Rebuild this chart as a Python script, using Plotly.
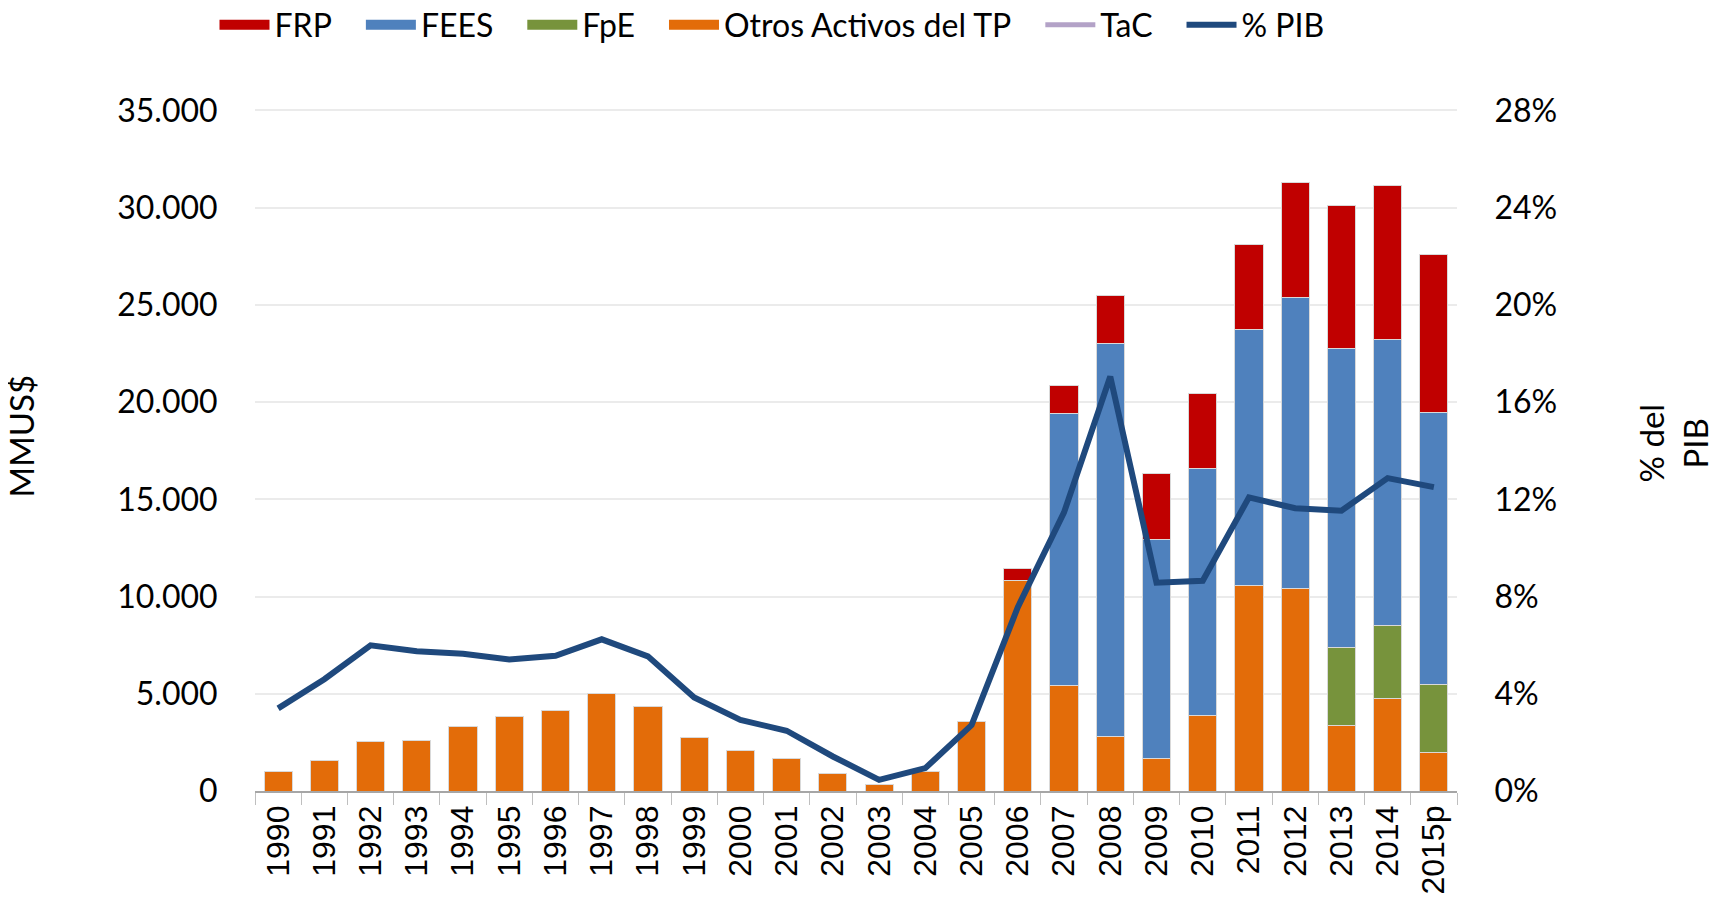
import plotly.graph_objects as go

years = ["1990","1991","1992","1993","1994","1995","1996","1997","1998","1999",
         "2000","2001","2002","2003","2004","2005","2006","2007","2008","2009",
         "2010","2011","2012","2013","2014","2015p"]

otros = [1000,1570,2560,2610,3310,3820,4160,5020,4330,2750,2100,1650,900,320,990,
         3590,10820,5420,2800,1650,3870,10590,10400,3350,4750,1970]
fpe = [None]*23 + [4020,3770,3500]
fees = [None]*17 + [14000,20190,11280,12720,13140,15000,15400,14690,13980]
frp = [None]*16 + [620,1440,2510,3390,3830,4390,5880,7320,7950,8120]
tac = [None]*26
pib = [3.40,4.60,5.99,5.75,5.65,5.41,5.56,6.24,5.54,3.85,2.92,2.48,1.42,0.46,0.94,
       2.71,7.56,11.46,17.05,8.57,8.65,12.08,11.63,11.53,12.87,12.50]

left_ticks = [0,5000,10000,15000,20000,25000,30000,35000]
right_ticks = [0,4,8,12,16,20,24,28]
right_labels = ["0%","4%","8%","12%","16%","20%","24%","28%"]

FONT = "Lato, Open Sans, sans-serif"
outline = dict(color="#D9D9D9", width=1)
SP = "\u2003"  # trailing em space widens the gap after each legend label

# page body has an 8px default margin -> figure is 8px smaller and shifted
W, H = 1709, 904
L, R, T, B = 247, 1449, 102, 783   # plot area edges in figure px
PW, PH = R - L, B - T
pad = 1.002  # tiny headroom so the 35.000 gridline is drawn

series = [("Otros Activos del TP", otros, "#E36C09", 4),
          ("FpE", fpe, "#77933C", 3),
          ("FEES", fees, "#4F81BD", 2),
          ("FRP", frp, "#C00000", 1)]

fig = go.Figure()
for name, vals, col, rank in series:
    fig.add_trace(go.Bar(x=years, y=vals, name=name, marker=dict(color=col, line=outline),
                         showlegend=False, legendgroup=name))
for name, vals, col, rank in series:
    # legend-only entry drawn as a wide swatch
    fig.add_trace(go.Scatter(x=[None], y=[None], name=name + SP, mode="lines",
                             line=dict(color=col, width=20), legendgroup=name,
                             legendrank=rank, hoverinfo="skip"))
fig.add_trace(go.Scatter(x=years, y=tac, name="TaC" + SP, mode="lines", line=dict(color="#B3A2C7", width=5),
                         yaxis="y2", showlegend=True, legendrank=5))
fig.add_trace(go.Scatter(x=years, y=pib, name="% PIB", mode="lines", line=dict(color="#1F497D", width=6),
                         yaxis="y2", legendrank=6))

fig.update_layout(
    width=W, height=H,
    barmode="stack", bargap=0.39,
    separators=",.",
    paper_bgcolor="white", plot_bgcolor="white",
    margin=dict(l=L, r=W - R, t=T - round(PH * (pad - 1)), b=H - B, autoexpand=False),
    font=dict(family=FONT, color="black", size=30),
    legend=dict(orientation="h", traceorder="normal", x=764 / W, xanchor="center", xref="container",
                y=1 - 17 / H, yanchor="middle", yref="container",
                font=dict(family=FONT, size=32), itemwidth=50, tracegroupgap=0,
                bgcolor="rgba(0,0,0,0)"),
    xaxis=dict(type="category", tickangle=-90, showgrid=False,
               showline=True, linecolor="#A6A6A6", linewidth=1.5,
               ticks="outside", tickson="boundaries", ticklen=12, tickcolor="#BFBFBF",
               tickfont=dict(family="Liberation Sans, Arial, sans-serif", size=32)),
    yaxis=dict(range=[0, 35000 * pad], tickvals=left_ticks, tickformat=",d",
               showgrid=True, gridcolor="#EBEBEB", gridwidth=1.5, zeroline=False,
               ticks="outside", ticklen=30, tickcolor="rgba(0,0,0,0)",
               tickfont=dict(family=FONT, size=32)),
    yaxis2=dict(range=[0, 28 * pad], tickvals=right_ticks, ticktext=right_labels, overlaying="y", side="right",
                showgrid=False, zeroline=False,
                ticks="outside", ticklen=30, tickcolor="rgba(0,0,0,0)",
                tickfont=dict(family=FONT, size=32)),
    annotations=[
        dict(text="MMUS$", xref="paper", yref="paper", x=(21 - 8 - L) / PW, y=(B - (437 - 8)) / PH,
             xanchor="center", yanchor="middle", textangle=-90, showarrow=False,
             font=dict(family=FONT, size=33)),
        dict(text="% del", xref="paper", yref="paper", x=(1651 - 8 - L) / PW, y=(B - (444 - 8)) / PH,
             xanchor="center", yanchor="middle", textangle=-90, showarrow=False,
             font=dict(family=FONT, size=33)),
        dict(text="PIB", xref="paper", yref="paper", x=(1695 - 8 - L) / PW, y=(B - (444 - 8)) / PH,
             xanchor="center", yanchor="middle", textangle=-90, showarrow=False,
             font=dict(family=FONT, size=33)),
    ],
)

fig.write_html("out.html")
